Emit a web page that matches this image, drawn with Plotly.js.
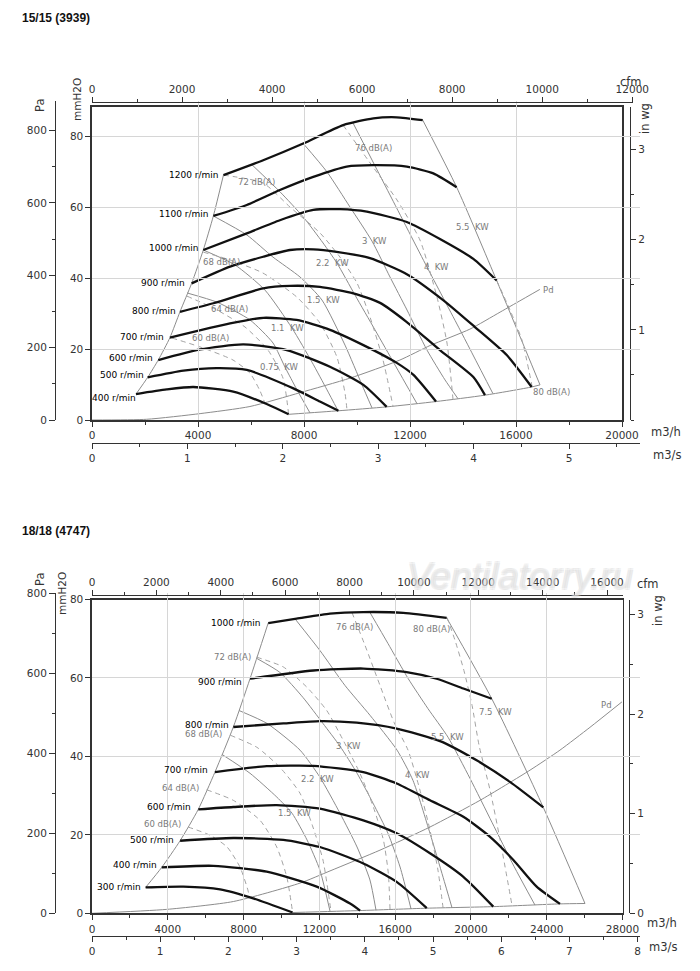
<!DOCTYPE html>
<html>
<head>
<meta charset="utf-8">
<script src="https://cdn.plot.ly/plotly-3.0.1.min.js"></script>
<style>
  html, body { margin: 0; padding: 0; background: #fff; }
  #plot { width: 700px; height: 971px; }
</style>
</head>
<body>
<div id="plot"></div>
<script>
// ---- fan 15/15 (3939): flow in m3/h, pressure in mmH2O ----
var topRpm = [400, 500, 600, 700, 800, 900, 1000, 1100, 1200];
var topRpmQ = [
  [1660, 2820, 3820, 5330, 6590, 7420],
  [2100, 3450, 4700, 5840, 7600, 8600, 9300],
  [2500, 4080, 5710, 7350, 8980, 10240, 11120],
  [2940, 5210, 6460, 7720, 8980, 10240, 11500, 12130, 12980],
  [3320, 4580, 6460, 7470, 8600, 9860, 10870, 11880, 13130, 14390, 14830],
  [3760, 5210, 6460, 7470, 8350, 9230, 10490, 11880, 13250, 14450, 15650, 16590],
  [4200, 5840, 7090, 8350, 9360, 10370, 11880, 13130, 14390, 15270],
  [4580, 5840, 7090, 8350, 9610, 10620, 11880, 12880, 13760],
  [4960, 6460, 7970, 9480, 10620, 11500, 12480]
];
var topRpmP = [
  [7.3, 8.6, 9.3, 8.0, 4.5, 1.6],
  [12.0, 13.9, 14.6, 14.1, 8.9, 5.2, 2.6],
  [16.9, 19.9, 21.3, 19.7, 15.0, 9.9, 3.7],
  [23.2, 27.2, 28.8, 28.2, 25.4, 21.1, 16.1, 12.7, 5.2],
  [30.5, 32.9, 37.1, 37.8, 37.5, 35.7, 33.0, 27.6, 19.7, 12.1, 7.0],
  [38.5, 43.2, 46.0, 47.9, 48.1, 47.4, 45.6, 41.1, 33.8, 26.2, 18.3, 9.3],
  [47.9, 52.6, 56.3, 59.2, 59.4, 58.7, 55.8, 51.0, 45.4, 39.3],
  [57.5, 60.6, 64.8, 68.5, 71.4, 71.8, 71.4, 69.5, 65.6],
  [69.0, 73.2, 77.9, 83.1, 85.0, 85.3, 84.5]
];

var topKw = ['0.75', '1.1', '1.5', '2.2', '3', '4', '5.5'];
var topKwQ = [
  [3585, 4717, 5962, 6830, 7283, 7736, 8226],
  [4200, 5396, 6528, 7547, 8302, 8868, 9294],
  [4577, 5849, 6830, 7849, 8679, 9547, 10189, 10566],
  [6026, 7094, 7962, 8717, 9245, 9925, 10679, 11434, 12264],
  [7974, 8868, 9736, 10566, 11245, 11887, 12642, 13321, 13811],
  [9849, 11245, 12642, 13887, 15132],
  [12480, 13760, 15270, 16906]
];
var topKwP = [
  [35.8, 33.2, 28.2, 21.7, 14.9, 8.5, 2.0],
  [47.9, 43.7, 36.6, 25.9, 16.3, 8.5, 2.5],
  [57.5, 52.1, 45.9, 40.3, 33.8, 21.1, 9.9, 3.4],
  [72.0, 64.3, 57.3, 49.9, 44.2, 35.2, 25.4, 15.5, 4.6],
  [77.9, 69.9, 60.0, 50.4, 40.3, 31.0, 19.7, 11.3, 6.0],
  [83.7, 63.4, 43.1, 25.4, 7.4],
  [84.5, 65.6, 39.3, 9.9]
];

var topDb = ['60', '64', '68', '72', '76', '80'];
var topDbQ = [
  [3019, 4075, 5321, 5962, 6340, 6528],
  [3585, 4642, 5774, 6642, 7208, 7420],
  [4200, 5208, 6453, 7736, 8604, 9245, 9547, 9623],
  [4960, 6453, 7472, 8604, 9358, 10000, 10491, 10981, 11359],
  [9472, 10604, 11509, 12377, 13019, 13396, 13623],
  [15270, 15774, 16226, 16604]
];
var topDbP = [
  [23.1, 20.6, 16.9, 13.2, 8.2, 4.7],
  [34.9, 31.3, 26.2, 19.7, 11.8, 1.6],
  [47.3, 45.1, 41.4, 34.6, 27.3, 17.7, 7.6, 2.8],
  [69.0, 66.8, 60.0, 52.7, 45.9, 38.6, 29.0, 16.9, 3.9],
  [83.1, 71.3, 62.0, 50.7, 34.6, 21.7, 5.8],
  [39.3, 31.0, 22.5, 9.6]
];

var topPdQ = [0, 2060, 4080, 5960, 7850, 9740, 11620, 12760, 14260, 15400, 16900];
var topPdP = [0, 0.2, 1.8, 3.8, 7.7, 11.8, 16.9, 21.0, 25.6, 30.4, 36.8];

// ---- fan 18/18 (4747) ----
var botRpm = [300, 400, 500, 600, 700, 800, 900, 1000];
var botRpmQ = [
  [2830, 4820, 6760, 8510, 10590],
  [3680, 6400, 9220, 11860, 13620, 14150],
  [4650, 7460, 10100, 12030, 14320, 16080, 17670],
  [5610, 7460, 9750, 12030, 14320, 16080, 17840, 19600, 21180],
  [6490, 9220, 11680, 14320, 16080, 17840, 19600, 21010, 22240, 23470, 24700],
  [7460, 10100, 12030, 13970, 16080, 18370, 20300, 22060, 23820],
  [8340, 11680, 14320, 16610, 18190, 19600, 21100],
  [9300, 10800, 12560, 14320, 16430, 18720]
];
var botRpmP = [
  [6.6, 6.8, 6.1, 3.8, 0.2],
  [11.7, 12.1, 10.6, 6.8, 2.5, 0.7],
  [18.5, 19.2, 18.7, 16.9, 12.7, 8.0, 1.3],
  [26.5, 27.1, 27.6, 26.7, 23.7, 20.4, 15.3, 9.3, 1.7],
  [36.0, 37.5, 37.6, 36.0, 33.1, 28.8, 24.6, 19.5, 13.6, 6.8, 2.4],
  [47.5, 48.4, 49.0, 48.6, 47.1, 43.9, 39.0, 33.5, 27.0],
  [59.8, 61.9, 62.4, 61.5, 59.8, 57.3, 54.7],
  [74.0, 75.1, 76.4, 76.8, 76.6, 75.3]
];

var botKw = ['1.5', '2.2', '3', '4', '5.5', '7.5'];
var botKwQ = [
  [6860, 8340, 9760, 10560, 11350, 12030, 12560],
  [7760, 9240, 10980, 12030, 13090, 13990, 14670, 14990],
  [8690, 9920, 11140, 12190, 13090, 13990, 14830, 15620, 16260, 16840],
  [10710, 12030, 13350, 14670, 16100, 16940, 17840, 18530, 19000],
  [14670, 15620, 16680, 17730, 18790, 19950, 21110, 22270, 23380],
  [18720, 21100, 23820, 26020]
];
var botKwP = [
  [40.5, 35.7, 29.6, 25.5, 18.7, 11.0, 0.6],
  [51.7, 48.4, 41.6, 34.7, 25.5, 16.9, 8.5, 0.8],
  [65.0, 61.4, 55.0, 48.4, 42.6, 35.7, 28.1, 20.4, 11.8, 1.1],
  [75.1, 67.0, 58.1, 50.5, 41.6, 33.9, 20.4, 9.2, 1.45],
  [76.7, 68.8, 59.9, 52.2, 44.9, 34.4, 23.2, 12.0, 2.1],
  [75.3, 54.7, 27.0, 2.5]
];

var botDb = ['60', '64', '68', '72', '76', '80'];
var botDbQ = [
  [5070, 6230, 7130, 7810, 8230, 8300],
  [6050, 7460, 8870, 9750, 10280, 10590],
  [7300, 8710, 9920, 10980, 11660, 12190, 12610],
  [8690, 10100, 11330, 12390, 13260, 14150, 14850, 15380, 15640, 15730],
  [13720, 14410, 15200, 15940, 16680, 17310, 17840, 18260, 18530],
  [18740, 19160, 19630, 20060, 20430, 21010, 21540, 22170]
];
var botDbP = [
  [22.0, 19.9, 16.9, 11.8, 5.9, 4.2],
  [31.5, 28.8, 23.7, 16.9, 9.3, 0.2],
  [45.4, 42.3, 37.2, 30.6, 22.0, 13.6, 0.6],
  [65.3, 62.8, 57.7, 51.7, 44.1, 35.6, 27.1, 18.7, 10.2, 0.9],
  [76.7, 68.3, 58.1, 48.7, 41.6, 31.4, 21.2, 11.0, 1.35],
  [75.4, 69.6, 61.9, 53.0, 42.8, 31.4, 18.7, 2.0]
];

var botPdQ = [0, 3940, 7460, 10980, 12560, 15200, 17840, 20480, 23120, 24700, 26280, 27970];
var botPdP = [0, 1.0, 3.0, 7.7, 10.8, 16.1, 22.0, 28.8, 36.5, 41.6, 47.4, 53.9];

// unit conversions for the secondary scales
var M3H_PER_CFM = 1.69901, M3H_PER_M3S = 3600, PA_PER_MM = 9.80665, MM_PER_INWG = 25.4;

// ---- page geometry (pixels on the 700 x 971 page) ----
var W = 700, H = 971;
function fx(p) { return p / W; }
function fy(p) { return 1 - p / H; }

var GRAY = '#8c8c8c', DASH = '#a3a3a3', INK = '#111';

function first(a) { return a[0]; }
function last(a) { return a[a.length - 1]; }

function lines(Q, P, xa, ya, line) {
  return Q.map(function(q, i) {
    return { type: 'scatter', mode: 'lines', x: q, y: P[i], xaxis: xa, yaxis: ya,
      line: Object.assign({ shape: 'spline', smoothing: 0.6 }, line),
      hoverinfo: 'skip', showlegend: false };
  });
}

// envelope: left edge through curve starts, bottom edge through low curve ends
function edges(rpmQ, rpmP, nLow, kwQ, kwP, xa, ya) {
  var lq = rpmQ.map(first), lp = rpmP.map(first);
  var bq = rpmQ.slice(0, nLow).map(last).concat([last(last(kwQ))]);
  var bp = rpmP.slice(0, nLow).map(last).concat([last(last(kwP))]);
  return lines([lq, bq], [lp, bp], xa, ya, { color: GRAY, width: 1 });
}

function chart(c) {
  return [].concat(
    edges(c.rpmQ, c.rpmP, c.nLow, c.kwQ, c.kwP, c.xa, c.ya),
    lines(c.kwQ, c.kwP, c.xa, c.ya, { color: GRAY, width: 1 }),
    lines(c.dbQ, c.dbP, c.xa, c.ya, { color: DASH, width: 1, dash: '5px,4px' }),
    lines([c.pdQ], [c.pdP], c.xa, c.ya, { color: GRAY, width: 1 }),
    lines(c.rpmQ, c.rpmP, c.xa, c.ya, { color: INK, width: 2.3 })
  );
}

// an empty trace so that each extra unit scale gets drawn
function holder(xa, ya) {
  return { type: 'scatter', mode: 'markers', x: [null], y: [null], xaxis: xa, yaxis: ya,
    marker: { size: 1, opacity: 0 }, hoverinfo: 'skip', showlegend: false };
}

var data = [].concat(
  chart({ rpmQ: topRpmQ, rpmP: topRpmP, nLow: 6, kwQ: topKwQ, kwP: topKwP,
          dbQ: topDbQ, dbP: topDbP, pdQ: topPdQ, pdP: topPdP, xa: 'x', ya: 'y' }),
  chart({ rpmQ: botRpmQ, rpmP: botRpmP, nLow: 5, kwQ: botKwQ, kwP: botKwP,
          dbQ: botDbQ, dbP: botDbP, pdQ: botPdQ, pdP: botPdP, xa: 'x4', ya: 'y4' }),
  [holder('x2', 'y'), holder('x3', 'y'), holder('x', 'y2'), holder('x', 'y3'),
   holder('x5', 'y4'), holder('x6', 'y4'), holder('x4', 'y5'), holder('x4', 'y6')]
);

var tickFont = { family: 'DejaVu Sans, sans-serif', size: 10.5, color: '#333' };
function ax(o) {
  return Object.assign({
    type: 'linear', showline: true, linecolor: '#333', linewidth: 1.2,
    ticks: 'outside', ticklen: 5, tickwidth: 1, tickcolor: '#333',
    tickfont: tickFont, showgrid: false, zeroline: false, fixedrange: true,
    exponentformat: 'none', autorange: false
  }, o);
}
function minor(d) { return { dtick: d, ticks: 'outside', ticklen: 3, tickcolor: '#333', showgrid: false }; }
var grid = { showgrid: true, gridcolor: '#d6d6d6', gridwidth: 1, mirror: true, linewidth: 1.6 };

// top chart frame: x 92..622 px (0..20000 m3/h), y 420..107 px
var tQmax = 20000, tL = 92, tR = 622, tB = 420, tT = 107;
var tPmax = 88.2;
var tQpx = tQmax / (tR - tL), tPpx = tPmax / (tB - tT);
// bottom chart frame: x 92..622.5 px (0..28000 m3/h), y 913.3..599.5 px
var bQmax = 28000, bL = 92, bR = 622.5, bB = 913.3, bT = 599.5;
var bPmax = 80;
var bQpx = bQmax / (bR - bL), bPpx = bPmax / (bB - bT);

var layout = {
  width: W, height: H, margin: { l: 0, r: 0, t: 0, b: 0 },
  paper_bgcolor: '#fff', plot_bgcolor: 'rgba(0,0,0,0)', showlegend: false,

  xaxis: ax(Object.assign({ domain: [fx(tL), fx(tR)], range: [0, tQmax], anchor: 'y',
    dtick: 4000, tickformat: 'd', minor: minor(2000) }, grid)),
  yaxis: ax(Object.assign({ domain: [fy(tB), fy(tT)], range: [0, tPmax], anchor: 'x',
    dtick: 20 }, grid)),
  xaxis2: ax({ domain: [fx(tL), fx(633)], range: [0, (633 - tL) * tQpx / M3H_PER_CFM],
    anchor: 'free', position: fy(102), side: 'top', dtick: 2000, tickformat: 'd', minor: minor(1000) }),
  xaxis3: ax({ domain: [fx(tL), fx(640)], range: [0, (640 - tL) * tQpx / M3H_PER_M3S],
    anchor: 'free', position: fy(443), side: 'bottom', dtick: 1, minor: minor(0.5) }),
  yaxis2: ax({ domain: [fy(tB), fy(101)], range: [0, (tB - 101) * tPpx * PA_PER_MM],
    anchor: 'free', position: fx(55), side: 'left', dtick: 200, minor: minor(100), ticklen: 6 }),
  yaxis3: ax({ domain: [fy(tB), fy(tT)], range: [0, tPmax / MM_PER_INWG],
    anchor: 'free', position: fx(630), side: 'right', tickvals: [1, 2, 3], minor: minor(0.5) }),

  xaxis4: ax(Object.assign({ domain: [fx(bL), fx(bR)], range: [0, bQmax], anchor: 'y4',
    dtick: 4000, tickformat: 'd', minor: minor(2000) }, grid)),
  yaxis4: ax(Object.assign({ domain: [fy(bB), fy(bT)], range: [0, bPmax], anchor: 'x4',
    dtick: 20 }, grid)),
  xaxis5: ax({ domain: [fx(bL), fx(623)], range: [0, (623 - bL) * bQpx / M3H_PER_CFM],
    anchor: 'free', position: fy(595), side: 'top', dtick: 2000, tickformat: 'd', minor: minor(1000) }),
  xaxis6: ax({ domain: [fx(bL), fx(640)], range: [0, (640 - bL) * bQpx / M3H_PER_M3S],
    anchor: 'free', position: fy(936), side: 'bottom', dtick: 1, minor: minor(0.5) }),
  yaxis5: ax({ domain: [fy(bB), fy(593)], range: [0, (bB - 593) * bPpx * PA_PER_MM],
    anchor: 'free', position: fx(55), side: 'left', dtick: 200, minor: minor(100), ticklen: 6 }),
  yaxis6: ax({ domain: [fy(bB), fy(bT)], range: [0, bPmax / MM_PER_INWG],
    anchor: 'free', position: fx(629), side: 'right', dtick: 1, minor: minor(0.5) }),

  annotations: []
};

var notes = layout.annotations;
function paperText(text, x, y, o) {
  notes.push(Object.assign({ text: text, x: fx(x), y: fy(y), xref: 'paper', yref: 'paper',
    xanchor: 'center', yanchor: 'middle', showarrow: false,
    font: { family: 'DejaVu Sans, sans-serif', size: 11.5, color: '#333' } }, o));
}

// watermark: outline only, the scale numbers stay visible through it
paperText('Ventilatorry.ru', 520, 576, {
  font: { family: 'Liberation Sans, Arial, sans-serif', size: 37, color: 'rgba(255,255,255,0.25)', style: 'italic',
    shadow: '-1px -1px 0 #cdcdcd, 1px -1px 0 #cdcdcd, -1px 1px 0 #cdcdcd, 1px 1px 0 #cdcdcd' } });

// chart titles
paperText('<b>15/15 (3939)</b>', 20, 18, { xanchor: 'left',
  font: { family: 'Liberation Sans, Arial, sans-serif', size: 12, color: '#111' } });
paperText('<b>18/18 (4747)</b>', 20, 531, { xanchor: 'left',
  font: { family: 'Liberation Sans, Arial, sans-serif', size: 12, color: '#111' } });

// axis names
paperText('cfm', 631, 82);
paperText('m3/h', 666, 432);
paperText('m3/s', 667, 455);
paperText('in wg', 645, 119, { textangle: -90 });
paperText('Pa', 40, 106, { textangle: -90 });
paperText('mmH2O', 77, 100, { textangle: -90, font: { family: 'DejaVu Sans, sans-serif', size: 10.5, color: '#333' } });
paperText('cfm', 648, 584);
paperText('m3/h', 662, 923);
paperText('m3/s', 663, 947);
paperText('in wg', 658, 611, { textangle: -90 });
paperText('Pa', 40, 580, { textangle: -90 });
paperText('mmH2O', 62, 593, { textangle: -90, font: { family: 'DejaVu Sans, sans-serif', size: 10.5, color: '#333' } });

// speed labels, right-aligned at the start of each curve
function rpmLabels(rpm, Q, P, xa, ya, shifts) {
  rpm.forEach(function(n, i) {
    notes.push({ text: n + ' r/min', x: Q[i][0], y: P[i][0], xref: xa, yref: ya,
      xanchor: 'right', yanchor: 'middle', xshift: shifts[i][0], yshift: shifts[i][1],
      showarrow: false, font: { family: 'DejaVu Sans, sans-serif', size: 9, color: '#000' } });
  });
}
rpmLabels(topRpm, topRpmQ, topRpmP, 'x', 'y',
  [[2, -4], [-2, 2], [-3, 2], [-4, 1], [-2, 1], [-5, 0], [-3, 2], [-3, 2], [-3, 0]]);
rpmLabels(botRpm, botRpmQ, botRpmP, 'x4', 'y4',
  [[-3, 0], [-3, 2], [-4, 1], [-5, 2], [-5, 2], [-2, 2], [-6, -3], [-6, 0]]);

// curve labels (Q m3/h, P mmH2O)
var topKwAt = [[7094, 14.9], [7396, 25.9], [8717, 33.8], [9057, 44.2], [10679, 50.4], [12981, 43.1], [14377, 54.4]];
var topDbAt = [[4490, 23.1], [5170, 31.3], [4868, 44.5], [6226, 67.0], [10604, 76.6], [17321, 7.9]];
var botKwAt = [[10714, 25.5], [11928, 34.2], [13512, 42.6], [17206, 35.2], [18737, 44.9], [21323, 51.2]];
var botDbAt = [[3695, 22.8], [4697, 31.9], [5911, 45.6], [7389, 65.3], [13829, 72.9], [17945, 72.4]];
function curveLabels(names, suffix, at, xa, ya) {
  names.forEach(function(n, i) {
    notes.push({ text: n + suffix, x: at[i][0], y: at[i][1], xref: xa, yref: ya,
      showarrow: false, font: { family: 'DejaVu Sans, sans-serif', size: 8.5, color: '#7a7a7a' } });
  });
}
curveLabels(topKw, '  KW', topKwAt, 'x', 'y');
curveLabels(topDb, ' dB(A)', topDbAt, 'x', 'y');
curveLabels(['Pd'], '', [[17208, 36.6]], 'x', 'y');
curveLabels(botKw, '  KW', botKwAt, 'x4', 'y4');
curveLabels(botDb, ' dB(A)', botDbAt, 'x4', 'y4');
curveLabels(['Pd'], '', [[27129, 53.0]], 'x4', 'y4');

Plotly.newPlot('plot', data, layout, { staticPlot: true, displayModeBar: false });
</script>
</body>
</html>
